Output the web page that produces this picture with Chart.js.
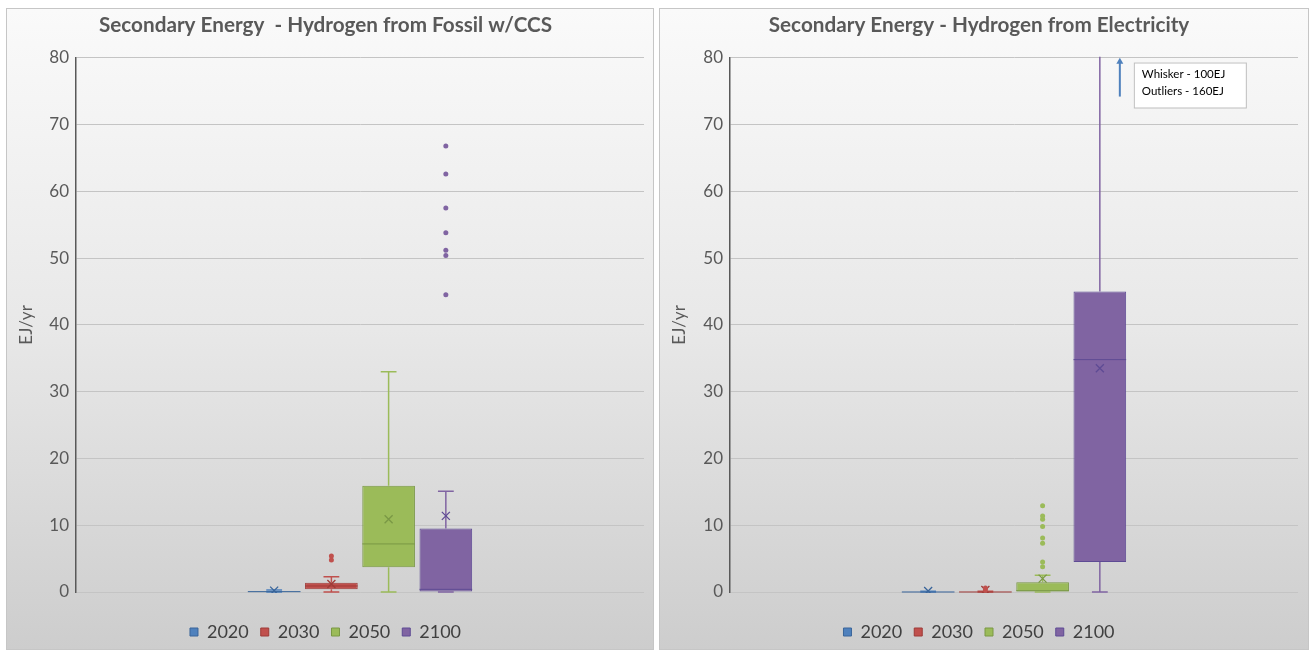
<!DOCTYPE html>
<html>
<head>
<meta charset="utf-8">
<script src="https://cdn.jsdelivr.net/npm/chart.js@4.4.0/dist/chart.umd.min.js"></script>
<style>
  body { margin: 0; background: #fff; width: 1309px; height: 652px; overflow: hidden; position: relative; }
  .panel { position: absolute; top: 8px; height: 642px; border: 1px solid #c6c6c6; box-sizing: border-box;
           background: linear-gradient(to bottom, #fafafa 0%, #e8e8e8 50%, #cdcdcd 100%); }
  #p1 { left: 6px; width: 648px; }
  #p2 { left: 659px; width: 650px; }
  .panel div { position: absolute; left: 0; top: 0; right: 0; bottom: -2px; }
</style>
</head>
<body>
<div class="panel" id="p1"><div><canvas id="fossil"></canvas></div></div>
<div class="panel" id="p2"><div><canvas id="elec"></canvas></div></div>
<script>
// series
const years = ['2020', '2030', '2050', '2100'];
const colors = ['#4F81BD', '#C0504D', '#9BBB59', '#8064A2'];
const darkColors = ['#3A659A', '#9E3B38', '#7A9845', '#5E4B94'];

// Hydrogen from Fossil w/CCS (EJ/yr)
const fossilMin = [0, 0, 0, 0];
const fossilQ1 = [0, 0.4, 3.7, 0];
const fossilMedian = [0.05, 0.9, 7.2, 0.4];
const fossilQ3 = [0.15, 1.4, 15.9, 9.5];
const fossilMax = [0.3, 2.3, 33.0, 15.1];
const fossilMean = [0.2, 1.2, 10.9, 11.4];
const fossilOutliers = [[], [4.8, 5.4], [], [44.5, 50.4, 51.2, 53.8, 57.5, 62.6, 66.8]];

// Hydrogen from Electricity (EJ/yr)
const elecMin = [0, 0, 0, 0];
const elecQ1 = [0, 0, 0, 4.5];
const elecMedian = [0, 0, 0.2, 34.8];
const elecQ3 = [0.1, 0.1, 1.45, 45];
const elecMax = [0.1, 0.1, 2.5, 100];
const elecMean = [0.15, 0.3, 2.0, 33.5];
const elecOutliers = [[], [0.3, 0.6], [3.8, 4.5, 7.3, 8.1, 9.8, 10.9, 11.4, 12.9], [160]];

const noteLines = ['Whisker - 100EJ', 'Outliers - 160EJ'];

const FONT = 'Lato, "Open Sans", sans-serif';

// whiskers, medians, means, outliers and the note, drawn from the bar elements + y scale
const boxPlotPlugin = {
    id: 'boxPlot',
    afterDatasetsDraw (chart, args, opts) {
        const ctx = chart.ctx;
        const y = chart.scales.y;
        const area = chart.chartArea;
        const s = opts.stats;
        ctx.save();
        ctx.beginPath();
        ctx.rect(area.left, area.top - 1, area.right - area.left, area.bottom - area.top + 2);
        ctx.clip();
        years.forEach((yr, i) => {
            const bar = chart.getDatasetMeta(i).data[0];
            const cx = bar.x;
            const half = bar.width / 2;
            const cap = bar.width * 0.15;
            ctx.strokeStyle = colors[i];
            ctx.lineWidth = 1.5;
            // whiskers
            ctx.beginPath();
            ctx.moveTo(cx, y.getPixelForValue(s.q3[i]));
            ctx.lineTo(cx, y.getPixelForValue(s.max[i]));
            ctx.moveTo(cx - cap, y.getPixelForValue(s.max[i]));
            ctx.lineTo(cx + cap, y.getPixelForValue(s.max[i]));
            ctx.moveTo(cx, y.getPixelForValue(s.q1[i]));
            ctx.lineTo(cx, y.getPixelForValue(s.min[i]));
            ctx.moveTo(cx - cap, y.getPixelForValue(s.min[i]));
            ctx.lineTo(cx + cap, y.getPixelForValue(s.min[i]));
            ctx.stroke();
            // median
            ctx.strokeStyle = darkColors[i];
            ctx.lineWidth = 1;
            ctx.beginPath();
            ctx.moveTo(cx - half, y.getPixelForValue(s.median[i]));
            ctx.lineTo(cx + half, y.getPixelForValue(s.median[i]));
            ctx.stroke();
            // mean
            const my = y.getPixelForValue(s.mean[i]);
            ctx.lineWidth = 1.3;
            ctx.beginPath();
            ctx.moveTo(cx - 4, my - 4); ctx.lineTo(cx + 4, my + 4);
            ctx.moveTo(cx - 4, my + 4); ctx.lineTo(cx + 4, my - 4);
            ctx.stroke();
            // outliers
            ctx.fillStyle = colors[i];
            s.outliers[i].forEach(v => {
                ctx.beginPath();
                ctx.arc(cx, y.getPixelForValue(v), 2.5, 0, Math.PI * 2);
                ctx.fill();
            });
        });
        ctx.restore();

        if (opts.note) {
            const bar = chart.getDatasetMeta(3).data[0];
            const ax = bar.x + 20;
            const yTop = y.getPixelForValue(80);
            const yBot = y.getPixelForValue(74.2);
            ctx.save();
            ctx.strokeStyle = '#4F81BD';
            ctx.fillStyle = '#4F81BD';
            ctx.lineWidth = 2;
            ctx.beginPath();
            ctx.moveTo(ax, yBot); ctx.lineTo(ax, yTop + 5);
            ctx.stroke();
            ctx.beginPath();
            ctx.moveTo(ax - 3.5, yTop + 6); ctx.lineTo(ax, yTop); ctx.lineTo(ax + 3.5, yTop + 6);
            ctx.closePath(); ctx.fill();
            const bx = bar.x + 34;
            const by = y.getPixelForValue(79.3);
            ctx.fillStyle = '#ffffff';
            ctx.strokeStyle = '#bfbfbf';
            ctx.lineWidth = 1;
            ctx.fillRect(bx, by, 112, 45);
            ctx.strokeRect(bx + 0.5, by + 0.5, 112, 45);
            ctx.fillStyle = '#000000';
            ctx.font = '11.5px ' + FONT;
            ctx.textBaseline = 'middle';
            opts.note.forEach((t, k) => ctx.fillText(t, bx + 8, by + 12 + k * 16.5));
            ctx.restore();
        }
    }
};

function makeChart (canvasId, title, st, note, padRight) {
    const datasets = years.map((yr, i) => ({
        label: yr,
        data: [[st.q1[i], st.q3[i]]],
        backgroundColor: colors[i],
        borderColor: darkColors[i],
        borderWidth: 1,
        borderSkipped: false,
        barPercentage: 0.92,
        categoryPercentage: 0.403
    }));
    return new Chart(document.getElementById(canvasId), {
        type: 'bar',
        data: { labels: [''], datasets: datasets },
        plugins: [boxPlotPlugin],
        options: {
            responsive: true,
            maintainAspectRatio: false,
            animation: false,
            layout: { padding: { left: 0, right: padRight, top: 0, bottom: 0 } },
            scales: {
                x: {
                    grid: { display: false },
                    border: { display: false },
                    ticks: { display: false },
                    afterFit: (scale) => { scale.height = 19; }
                },
                y: {
                    min: 0,
                    max: 80,
                    ticks: { stepSize: 10, color: '#595959', padding: 7, font: { family: FONT, size: 17 } },
                    grid: { color: '#c4c4c4', drawTicks: false },
                    border: { display: true, color: '#595959', width: 1.5 },
                    title: { display: true, text: 'EJ/yr', color: '#595959', padding: { top: 9, bottom: 0 },
                             font: { family: FONT, size: 17 } },
                    afterFit: (scale) => { scale.width = canvasId === 'fossil' ? 69 : 70; }
                }
            },
            plugins: {
                title: {
                    display: true,
                    text: title,
                    color: '#595959',
                    font: { family: FONT, size: 20.7, weight: 'bold' },
                    padding: { top: 4, bottom: 20 }
                },
                legend: {
                    position: 'bottom',
                    labels: { boxWidth: 8, boxHeight: 8, padding: 12, color: '#404040',
                              font: { family: FONT, size: 18 } }
                },
                tooltip: { enabled: false },
                boxPlot: { stats: st, note: note }
            }
        }
    });
}

makeChart('fossil', 'Secondary Energy  - Hydrogen from Fossil w/CCS', {
    min: fossilMin, q1: fossilQ1, median: fossilMedian, q3: fossilQ3,
    max: fossilMax, mean: fossilMean, outliers: fossilOutliers
}, null, 9);

makeChart('elec', 'Secondary Energy - Hydrogen from Electricity', {
    min: elecMin, q1: elecQ1, median: elecMedian, q3: elecQ3,
    max: elecMax, mean: elecMean, outliers: elecOutliers
}, noteLines, 10);
</script>
</body>
</html>
